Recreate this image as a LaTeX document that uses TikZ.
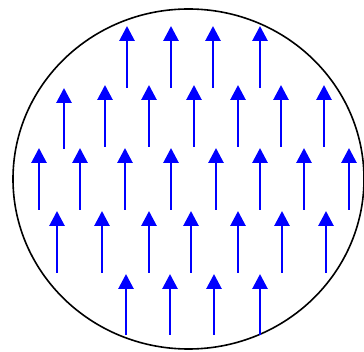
\documentclass[tikz,border=0pt]{standalone}
\usetikzlibrary{arrows.meta}

\begin{document}
\begin{tikzpicture}[x=1pt, y=-1pt, >={Triangle[width=15pt,length=15pt]},
    vec/.style={->, blue, line width=2.8pt}]
    \useasboundingbox (0,0) rectangle (364,352);

    \draw[line width=1.6pt] (188.5,179) ellipse [x radius=175.5, y radius=170];

    % rows of the uniform field, from top to bottom
    \foreach \x in {127,171,213,260}
        \draw[vec] (\x,88) -- (\x,26);
    \foreach \x in {105,149,194,238,281,324}
        \draw[vec] (\x,147) -- (\x,85);
    \draw[vec] (64,149) -- (64,88);
    \foreach \x in {39,80,125,171,216,260,304,349}
        \draw[vec] (\x,210) -- (\x,148);
    \foreach \x in {57,102,149,191,238,282,326}
        \draw[vec] (\x,273) -- (\x,211);
    \foreach \x in {126,170,214,260}
        \draw[vec] (\x,335) -- (\x,274);
\end{tikzpicture}
\end{document}
